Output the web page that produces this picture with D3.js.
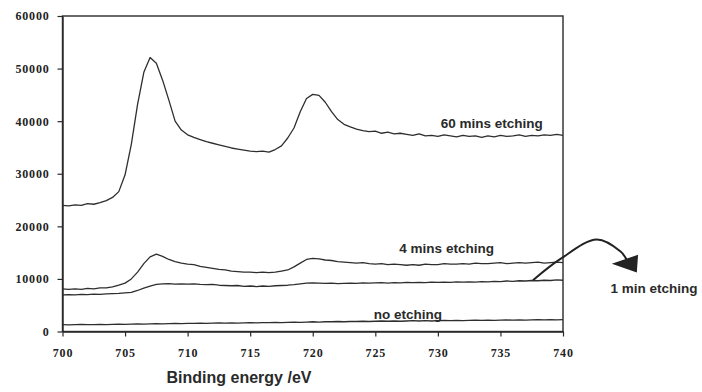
<!DOCTYPE html>
<html>
<head>
<meta charset="utf-8">
<script src="https://cdn.jsdelivr.net/npm/d3@7"></script>
<style>
  body { margin: 0; background: #fff; }
</style>
</head>
<body>
<div id="chart"></div>
<script>
// binding energy grid (eV), 0.5 eV steps
const energy = [
  700, 700.5, 701, 701.5, 702, 702.5, 703, 703.5, 704, 704.5,
  705, 705.5, 706, 706.5, 707, 707.5, 708, 708.5, 709, 709.5,
  710, 710.5, 711, 711.5, 712, 712.5, 713, 713.5, 714, 714.5,
  715, 715.5, 716, 716.5, 717, 717.5, 718, 718.5, 719, 719.5,
  720, 720.5, 721, 721.5, 722, 722.5, 723, 723.5, 724, 724.5,
  725, 725.5, 726, 726.5, 727, 727.5, 728, 728.5, 729, 729.5,
  730, 730.5, 731, 731.5, 732, 732.5, 733, 733.5, 734, 734.5,
  735, 735.5, 736, 736.5, 737, 737.5, 738, 738.5, 739, 739.5,
  740
];

const etch60 = [
  24000, 23900, 24100, 24000, 24300, 24200, 24500, 24900, 25500, 26600,
  29800, 35600, 43200, 49300, 52100, 51000, 47800, 44000, 40000, 38300,
  37400, 36900, 36500, 36100, 35800, 35500, 35200, 34900, 34700, 34500,
  34300, 34200, 34300, 34100, 34600, 35300, 36800, 38700, 41800, 44300,
  45100, 44900, 43600, 41800, 40300, 39400, 38900, 38500, 38200, 38000,
  38100, 37700, 37900, 37600, 37700, 37500, 37300, 37600, 37200, 37300,
  37100, 37400, 37200, 37000, 37300, 37100, 37200, 36900, 37200, 37000,
  37300, 37100, 37200, 37400, 37100, 37300, 37200, 37400, 37300, 37500,
  37300
];

const etch4 = [
  8100, 8000, 8100, 8000, 8200, 8100, 8300, 8300, 8500, 8800,
  9200, 10000, 11300, 12900, 14200, 14700, 14300, 13700, 13300, 13000,
  12800, 12700, 12400, 12200, 12000, 11800, 11700, 11500, 11400, 11300,
  11300, 11200, 11300, 11200, 11300, 11500, 11700, 12300, 13000, 13700,
  13900, 13800, 13600, 13500, 13300, 13200, 13100, 13000, 13100, 12900,
  12800, 12900, 12700, 12800, 12700, 12600, 12700, 12600, 12800, 12700,
  12700, 12900, 12800, 12800, 12900, 12800, 13000, 12900, 12900, 13000,
  13100, 12900, 13000, 13100, 13000, 13100, 13200, 13000, 13100, 13200,
  13100
];

const etch1 = [
  6950, 7000, 6950, 7050, 7000, 7100, 7050, 7150, 7200, 7250,
  7350, 7450, 7800, 8250, 8650, 8950, 9050, 9100, 9000, 9050,
  9000, 9050, 8950, 8900, 8950, 8800, 8750, 8700, 8750, 8600,
  8650, 8550, 8650, 8600, 8700, 8750, 8800, 8900, 9050, 9200,
  9250, 9200, 9150, 9200, 9100, 9150, 9200, 9150, 9250, 9200,
  9250, 9300, 9200, 9300, 9250, 9350, 9300, 9350, 9300, 9400,
  9350, 9400, 9350, 9450, 9400, 9450, 9400, 9500, 9450, 9550,
  9500, 9600, 9550, 9650, 9600, 9700, 9650, 9750, 9700, 9800,
  9750
];

const etch0 = [
  1300, 1250, 1300, 1350, 1300, 1300, 1350, 1300, 1350, 1400,
  1350, 1400, 1450, 1400, 1450, 1500, 1450, 1500, 1550, 1500,
  1550, 1550, 1600, 1550, 1600, 1650, 1600, 1650, 1600, 1650,
  1700, 1650, 1700, 1700, 1750, 1700, 1750, 1800, 1750, 1800,
  1850, 1800, 1850, 1850, 1900, 1850, 1900, 1900, 1950, 1900,
  1950, 2000, 1950, 2000, 1950, 2000, 2050, 2000, 2050, 2000,
  2050, 2100, 2050, 2100, 2050, 2100, 2150, 2100, 2150, 2100,
  2150, 2200, 2150, 2200, 2150, 2200, 2250, 2200, 2250, 2200,
  2250
];

const xTicks = [700, 705, 710, 715, 720, 725, 730, 735, 740];
const yTicks = [0, 10000, 20000, 30000, 40000, 50000, 60000];

// arrow pointing from the 1 min curve to its label (eV, counts)
const arrowPath = [[737.6, 9750], [739.8, 13800], [742.7, 17500], [744.6, 15200], [745.1, 13600]];
const arrowHead = [[743.9, 12900], [745.9, 11200], [746.0, 14600]];

const W = 702, H = 392;
const x = d3.scaleLinear().domain([700, 740]).range([62.5, 563]);
const y = d3.scaleLinear().domain([0, 60000]).range([331.5, 16]);

const svg = d3.select("#chart").append("svg")
  .attr("width", W).attr("height", H);

const ink = "#2a2a2a";
const serif = '"Liberation Serif", "Times New Roman", serif';
const sans = '"Liberation Sans", Arial, sans-serif';

// frame
svg.append("rect")
  .attr("x", x(700)).attr("y", y(60000))
  .attr("width", x(740) - x(700)).attr("height", y(0) - y(60000))
  .attr("fill", "none").attr("stroke", ink).attr("stroke-width", 1.4);

// axes
const yAxis = svg.append("g")
  .attr("transform", `translate(${x(700)},0)`)
  .call(d3.axisLeft(y).tickValues(yTicks).tickFormat(d3.format("d")).tickSize(5).tickSizeOuter(0).tickPadding(8));

const xAxis = svg.append("g")
  .attr("transform", `translate(0,${y(0)})`)
  .call(d3.axisBottom(x).tickValues(xTicks).tickFormat(d3.format("d")).tickSize(5).tickSizeOuter(0).tickPadding(10));

[yAxis, xAxis].forEach(g => {
  g.attr("font-family", serif).attr("font-size", 12).attr("font-weight", "bold");
  g.select(".domain").attr("stroke", ink).attr("stroke-width", 1.4);
  g.selectAll(".tick line").attr("stroke", ink).attr("stroke-width", 1.2);
  g.selectAll(".tick text")
    .attr("fill", "#222")
    .style("font-family", serif)
    .style("font-weight", "bold")
    .style("font-size", "12px")
    .style("letter-spacing", "0.8px");
});
xAxis.selectAll(".tick text").attr("dy", "0.9em");

// spectra
const line = d3.line()
  .x(d => x(d[0]))
  .y(d => y(d[1]));

[etch60, etch4, etch1, etch0].forEach(vals => {
  svg.append("path")
    .datum(energy.map((e, i) => [e, vals[i]]))
    .attr("fill", "none")
    .attr("stroke", "#2e2e2e")
    .attr("stroke-width", 1.3)
    .attr("stroke-linejoin", "round")
    .attr("d", line);
});

// curve labels
const labels = [
  { text: "60 mins etching", e: 734.3, v: 38700, anchor: "middle" },
  { text: "4 mins etching", e: 730.7, v: 14870, anchor: "middle" },
  { text: "no etching", e: 727.6, v: 2320, anchor: "middle" },
  { text: "1 min etching", e: 743.8, v: 7380, anchor: "start" }
];
labels.forEach(l => {
  svg.append("text")
    .attr("x", x(l.e)).attr("y", y(l.v))
    .attr("text-anchor", l.anchor)
    .style("font-family", sans).style("font-weight", "bold").style("font-size", "13.5px")
    .attr("fill", "#2a2a2a")
    .text(l.text);
});

// arrow
svg.append("path")
  .datum(arrowPath)
  .attr("fill", "none")
  .attr("stroke", "#222")
  .attr("stroke-width", 2)
  .attr("d", d3.line().x(d => x(d[0])).y(d => y(d[1])).curve(d3.curveCatmullRom));

svg.append("path")
  .datum(arrowHead)
  .attr("fill", "#222")
  .attr("d", d3.line().x(d => x(d[0])).y(d => y(d[1])).curve(d3.curveLinearClosed));

// axis title
svg.append("text")
  .attr("x", 239).attr("y", 383)
  .attr("text-anchor", "middle")
  .style("font-family", sans).style("font-weight", "bold").style("font-size", "16px")
  .attr("fill", "#2a2a2a")
  .text("Binding energy /eV");
</script>
</body>
</html>
